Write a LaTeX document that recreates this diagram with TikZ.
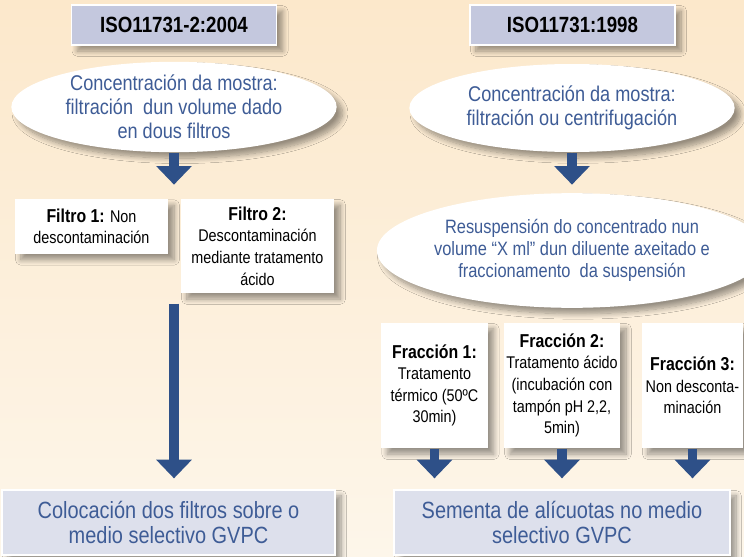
\documentclass[tikz,border=0pt]{standalone}
\usepackage{fontspec}
\setmainfont[FakeStretch=0.85]{Liberation Sans}
\usetikzlibrary{arrows.meta,shapes.geometric,shadows.blur}

\definecolor{bgtop}{RGB}{252,232,203}
\definecolor{bgbottom}{RGB}{253,246,234}
\definecolor{headfill}{RGB}{196,200,222}
\definecolor{basefill}{RGB}{221,224,236}
\definecolor{textblue}{RGB}{62,92,150}
\definecolor{arrowblue}{RGB}{46,80,136}

\newcommand{\optlabel}[1]{{\bfseries\fontsize{14}{16.2}\selectfont #1}}

\tikzset{every picture/.style={line width=0.75pt}}
\tikzset{
  softshadow/.style={blur shadow={shadow xshift=4.5pt, shadow yshift=-4.5pt, shadow blur steps=10, shadow blur radius=4pt, shadow opacity=40}},
  isohead/.style={draw=white, line width=1.2pt, fill=headfill, softshadow, minimum width=154pt, minimum height=30pt, inner sep=0pt, font=\bfseries\fontsize{16.5}{18}\selectfont},
  stage/.style={ellipse, fill=white, softshadow, inner sep=0pt, align=center, text=textblue},
  option/.style={fill=white, softshadow, inner sep=0pt, align=center, minimum height=94pt, font=\fontsize{12.7}{16.2}\selectfont},
  medium/.style={draw=white, line width=1.2pt, fill=basefill, softshadow, inner sep=0pt, align=center, minimum height=49pt, text=textblue, font=\fontsize{17.6}{18.75}\selectfont},
  flow/.style={draw=arrowblue, line width=7pt, -{Triangle[width=26pt,length=14pt]}}
}

\begin{document}
\begin{tikzpicture}[x=0.75pt,y=0.75pt,yscale=-1,xscale=1]
		%Shape: Background
		\fill [top color=bgtop, bottom color=bgbottom] (0,0) rectangle (744,557);
		\useasboundingbox (0,0) rectangle (744,557);

		% Headers
		\node [isohead] (isoA) at (174,25) {ISO11731-2:2004};
		\node [isohead] (isoB) at (572.5,25) {ISO11731:1998};

		% Left column
		\node [stage, minimum width=244pt, minimum height=66pt, font=\fontsize{16}{18}\selectfont] (concL) at (174,107) {Concentración da mostra:\\filtración\ \ dun volume dado\\en dous filtros};
		\node [option, minimum width=115pt, minimum height=41pt] (filtro1) at (91.5,226.5) {\optlabel{Filtro 1:} Non\\descontaminación};
		\node [option, minimum width=115pt, minimum height=70.5pt] (filtro2) at (257.5,246) {\optlabel{Filtro 2:}\\Descontaminación\\mediante tratamento\\ácido};
		\node [medium, minimum width=250pt] (colocacion) at (168.5,522.5) {Colocación dos filtros sobre o\\medio selectivo GVPC};

		% Right column
		\node [stage, minimum width=244pt, minimum height=66pt, font=\fontsize{16}{18}\selectfont] (concR) at (572,108) {Concentración da mostra:\\filtración ou centrifugación};
		\node [stage, minimum width=244.5pt, minimum height=86pt, font=\fontsize{14.5}{16.5}\selectfont] (resusp) at (572,250.5) {Resuspensión do concentrado nun\\volume “X ml” dun diluente axeitado e\\fraccionamento\ \ da suspensión};
		\node [option, minimum width=80pt] (frac1) at (434.5,385.5) {\optlabel{Fracción 1:}\\Tratamento\\térmico (50ºC\\30min)};
		\node [option, minimum width=87pt] (frac2) at (562,385.5) {\optlabel{Fracción 2:}\\Tratamento ácido\\(incubación con\\tampón pH 2,2,\\5min)};
		\node [option, minimum width=76pt] (frac3) at (692.5,385.5) {\optlabel{Fracción 3:}\\Non desconta-\\minación};
		\node [medium, minimum width=252pt] (sementa) at (562,522.5) {Sementa de alícuotas no medio\\selectivo GVPC};

		% Arrows
		\draw [flow, shorten >=10.5pt] (concL.south) -- (concL.south |- filtro1.north);
		\draw [flow, shorten <=7.5pt, shorten >=8pt] (concL.south |- filtro2.south) -- (concL.south |- colocacion.north);
		\draw [flow, shorten >=6pt] (concR.south) -- (resusp.north);
		\foreach \f in {frac1,frac2,frac3}
			\draw [flow, shorten >=8pt] (\f.south) -- (\f.south |- sementa.north);
\end{tikzpicture}
\end{document}
